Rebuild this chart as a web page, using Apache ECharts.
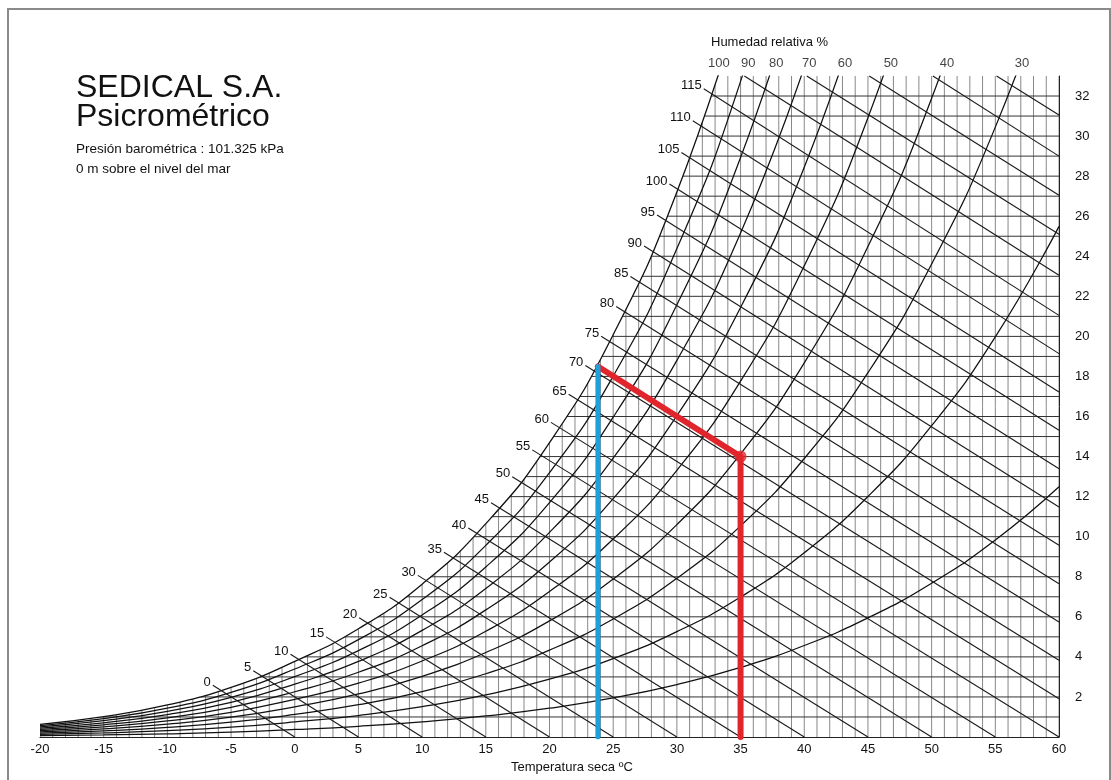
<!DOCTYPE html>
<html>
<head>
<meta charset="utf-8">
<script src="https://cdn.jsdelivr.net/npm/echarts@6/dist/echarts.min.js"></script>
<style>html,body{margin:0;padding:0;background:#fff;}#c{width:1111px;height:780px;}</style>
</head>
<body>
<div id="c"></div>
<script>
// ---- data ----
const tempTicks = [-20,-15,-10,-5,0,5,10,15,20,25,30,35,40,45,50,55,60];
const wTicks = [2,4,6,8,10,12,14,16,18,20,22,24,26,28,30,32];
const rhTemps = [-20,-15,-10,-5,0,5,10,15,20,25,30,35,40,45,50,55,60];
const rh100 = [0.634,1.016,1.600,2.476,3.775,5.403,7.632,10.650,14.699,20.086,27.210,36.584];
const rh90  = [0.571,0.915,1.439,2.227,3.395,4.859,6.860,9.569,13.198,18.019,24.382,32.733,43.661];
const rh80  = [0.507,0.813,1.279,1.979,3.016,4.315,6.091,8.491,11.704,15.966,21.579,28.927,38.510];
const rh70  = [0.444,0.711,1.119,1.731,2.638,3.772,5.323,7.417,10.217,13.925,18.800,25.165,33.437];
const rh60  = [0.380,0.609,0.959,1.483,2.259,3.231,4.557,6.347,8.737,11.898,16.045,21.446,28.442,37.469];
const rh50  = [0.317,0.508,0.799,1.235,1.882,2.690,3.793,5.280,7.264,9.884,13.314,17.770,23.522,30.914,40.373];
const rh40  = [0.254,0.406,0.639,0.988,1.504,2.150,3.031,4.217,5.797,7.882,10.605,14.135,18.677,24.488,31.885,41.271];
const rh30  = [0.190,0.305,0.479,0.741,1.128,1.611,2.270,3.157,4.338,5.893,7.920,10.541,13.903,18.187,23.611,30.448,39.038];
const rh20  = [0.127,0.203,0.319,0.494,0.751,1.073,1.512,2.101,2.885,3.916,5.258,6.988,9.200,12.008,15.544,19.973,25.492];
const rh10  = [0.063,0.101,0.160,0.247,0.375,0.536,0.755,1.049,1.439,1.952,2.618,3.474,4.566,5.946,7.676,9.829,12.490];

// relative humidity labels along the top: [label, temperature]
const rhLabels = ['100','90','80','70','60','50','40','30'];
const rhLabelT = [33.3,35.6,37.8,40.4,43.2,46.8,51.2,57.1];

// enthalpy lines (kJ/kg): start point (on saturation curve or top), end point
const enthalpy = [0,5,10,15,20,25,30,35,40,45,50,55,60,65,70,75,80,85,90,95,100,105,110,115,120,125,130,135,140];
const hStartT = [-5.77,-2.59,0.33,3.13,5.72,8.11,10.33,12.38,14.29,16.08,17.74,19.31,20.78,22.17,23.48,24.72,25.90,27.02,28.09,29.11,30.08,31.02,31.91,32.77,35.3,40.2,45.1,50.1,55.1];
const hStartW = [2.317,3.042,3.868,4.735,5.686,6.711,7.806,8.961,10.171,11.428,12.730,14.070,15.444,16.849,18.282,19.743,21.224,22.728,24.250,25.790,27.344,28.915,30.499,32.094,33,33,33,33,33];
const hEndT   = [0,5,10,15,20,25,30,35,40,45,50,55,60,60,60,60,60,60,60,60,60,60,60,60,60,60,60,60,60];
const hEndW   = [0,0,0,0,0,0,0,0,0,0,0,0,0,1.914,3.828,5.741,7.655,9.569,11.483,13.396,15.310,17.224,19.138,21.051,23.05,25.1,27.05,29.0,31.05];

// process lines (red / blue)
const redProcess  = [[35,0],[35,14],[23.8,18.5]];
const redPoint    = [[35,14]];
const blueProcess = [[23.8,0],[23.8,18.5]];

// ---- build ----
const FONT = '"Liberation Sans", Arial, Helvetica, sans-serif';
function pairs(ys){ return ys.map((y,i)=>[rhTemps[i], y]); }
const rhSeriesList = [rh90,rh80,rh70,rh60,rh50,rh40,rh30,rh20,rh10];

const gridData = [];
for (let t=-20; t<=60; t++) gridData.push([t,0,t,33,0]);
for (let w=1; w<=32; w++) gridData.push([-20,w,60,w,1]);

const hData = enthalpy.map((h,i)=>[h,hStartT[i],hStartW[i],hEndT[i],hEndW[i], hStartW[i] < 33 ? 1 : 0]);

const chart = echarts.init(document.getElementById('c'), null, {renderer:'canvas'});
const series = [];

series.push({
  type:'custom', z:1, silent:true, clip:true,
  data: gridData,
  encode:{x:[0,2], y:[1,3]},
  renderItem:function(params, api){
    const a = api.coord([api.value(0), api.value(1)]);
    const b = api.coord([api.value(2), api.value(3)]);
    const horiz = api.value(4) === 1;
    return {type:'line', shape:{x1:a[0],y1:a[1],x2:b[0],y2:b[1]},
      style:{stroke: horiz ? '#333333' : '#888888', lineWidth:1}};
  }
});

// saturation curve with white mask above it
series.push({
  type:'line', z:2, silent:true, smooth:true, symbol:'none',
  data: pairs(rh100),
  lineStyle:{color:'#111', width:1.3},
  areaStyle:{color:'#ffffff', opacity:1, origin:'end'}
});

rhSeriesList.forEach(arr=>{
  series.push({type:'line', z:3, silent:true, smooth:true, symbol:'none',
    data: pairs(arr), lineStyle:{color:'#111', width:1.25}});
});

series.push({
  type:'custom', z:4, silent:true,
  data: hData,
  encode:{x:[1,3], y:[2,4]},
  renderItem:function(params, api){
    const h = api.value(0);
    const s = api.coord([api.value(1), api.value(2)]);
    const e = api.coord([api.value(3), api.value(4)]);
    const lab = api.value(5) === 1;
    let sx = s[0], sy = s[1];
    const children = [];
    if (lab) {
      const dx = s[0]-e[0], dy = s[1]-e[1], L = Math.hypot(dx,dy);
      sx = s[0] + dx/L*10; sy = s[1] + dy/L*10;
      children.push({type:'text', style:{text:String(h), x:sx-2, y:sy-3, align:'right', verticalAlign:'middle',
        textAlign:'right', textVerticalAlign:'middle', font:'13px '+FONT, fill:'#111'}});
    }
    children.unshift({type:'line', shape:{x1:sx,y1:sy,x2:e[0],y2:e[1]}, style:{stroke:'#1a1a1a', lineWidth:1.1}});
    return {type:'group', children:children};
  }
});

series.push({
  type:'scatter', z:4, silent:true, clip:false, symbolSize:0,
  data: rhLabels.map((l,i)=>[rhLabelT[i], 33, l]),
  label:{show:true, position:'top', distance:6, formatter:p=>p.value[2], color:'#111', fontSize:13, fontFamily:FONT}
});

series.push({type:'line', z:6, silent:true, symbol:'none', data:redProcess,
  lineStyle:{color:'#e0262c', width:6, cap:'round', join:'round'}});
series.push({type:'scatter', z:7, silent:true, symbol:'circle', symbolSize:12, data:redPoint,
  itemStyle:{color:'#e0262c'}});
series.push({type:'line', z:8, silent:true, symbol:'none', data:blueProcess,
  lineStyle:{color:'#1da1dd', width:5, cap:'round'}});

const option = {
  animation:false,
  backgroundColor:'#fff',
  textStyle:{fontFamily:FONT},
  grid:{left:40, right:52, top:76, bottom:43, containLabel:false},
  xAxis:{type:'value', min:tempTicks[0], max:tempTicks[tempTicks.length-1], interval:5,
    axisLine:{show:true, lineStyle:{color:'#222', width:1}},
    axisTick:{show:false}, splitLine:{show:false},
    axisLabel:{color:'#111', fontSize:13, margin:6, fontFamily:FONT,
      formatter:v=> tempTicks.indexOf(v) >= 0 ? String(v) : ''}},
  yAxis:{type:'value', position:'right', min:0, max:33, interval:2,
    axisLine:{show:true, onZero:false, lineStyle:{color:'#222', width:1}},
    axisTick:{show:false}, splitLine:{show:false},
    axisLabel:{color:'#111', fontSize:13, margin:16, fontFamily:FONT, showMaxLabel:false,
      formatter:v=> wTicks.indexOf(v) >= 0 ? String(v) : ''}},
  graphic:[
    {type:'rect', z:100, silent:true, shape:{x:8, y:9, width:1102, height:800}, style:{fill:'none', stroke:'#8a8a8a', lineWidth:2}},
    {type:'text', z:100, silent:true, left:76, top:72, style:{text:'SEDICAL S.A.', font:'32px '+FONT, fill:'#111'}},
    {type:'text', z:100, silent:true, left:76, top:101, style:{text:'Psicrométrico', font:'32px '+FONT, fill:'#111'}},
    {type:'text', z:100, silent:true, left:76, top:142, style:{text:'Presión barométrica : 101.325 kPa', font:'13.5px '+FONT, fill:'#111'}},
    {type:'text', z:100, silent:true, left:76, top:162, style:{text:'0 m sobre el nivel del mar', font:'13.5px '+FONT, fill:'#111'}},
    {type:'text', z:100, silent:true, left:711, top:36, style:{text:'Humedad relativa %', font:'13px '+FONT, fill:'#111'}},
    {type:'text', z:100, silent:true, left:511, top:761, style:{text:'Temperatura seca ºC', font:'13px '+FONT, fill:'#111'}}
  ],
  series: series
};
chart.setOption(option);
</script>
</body>
</html>
